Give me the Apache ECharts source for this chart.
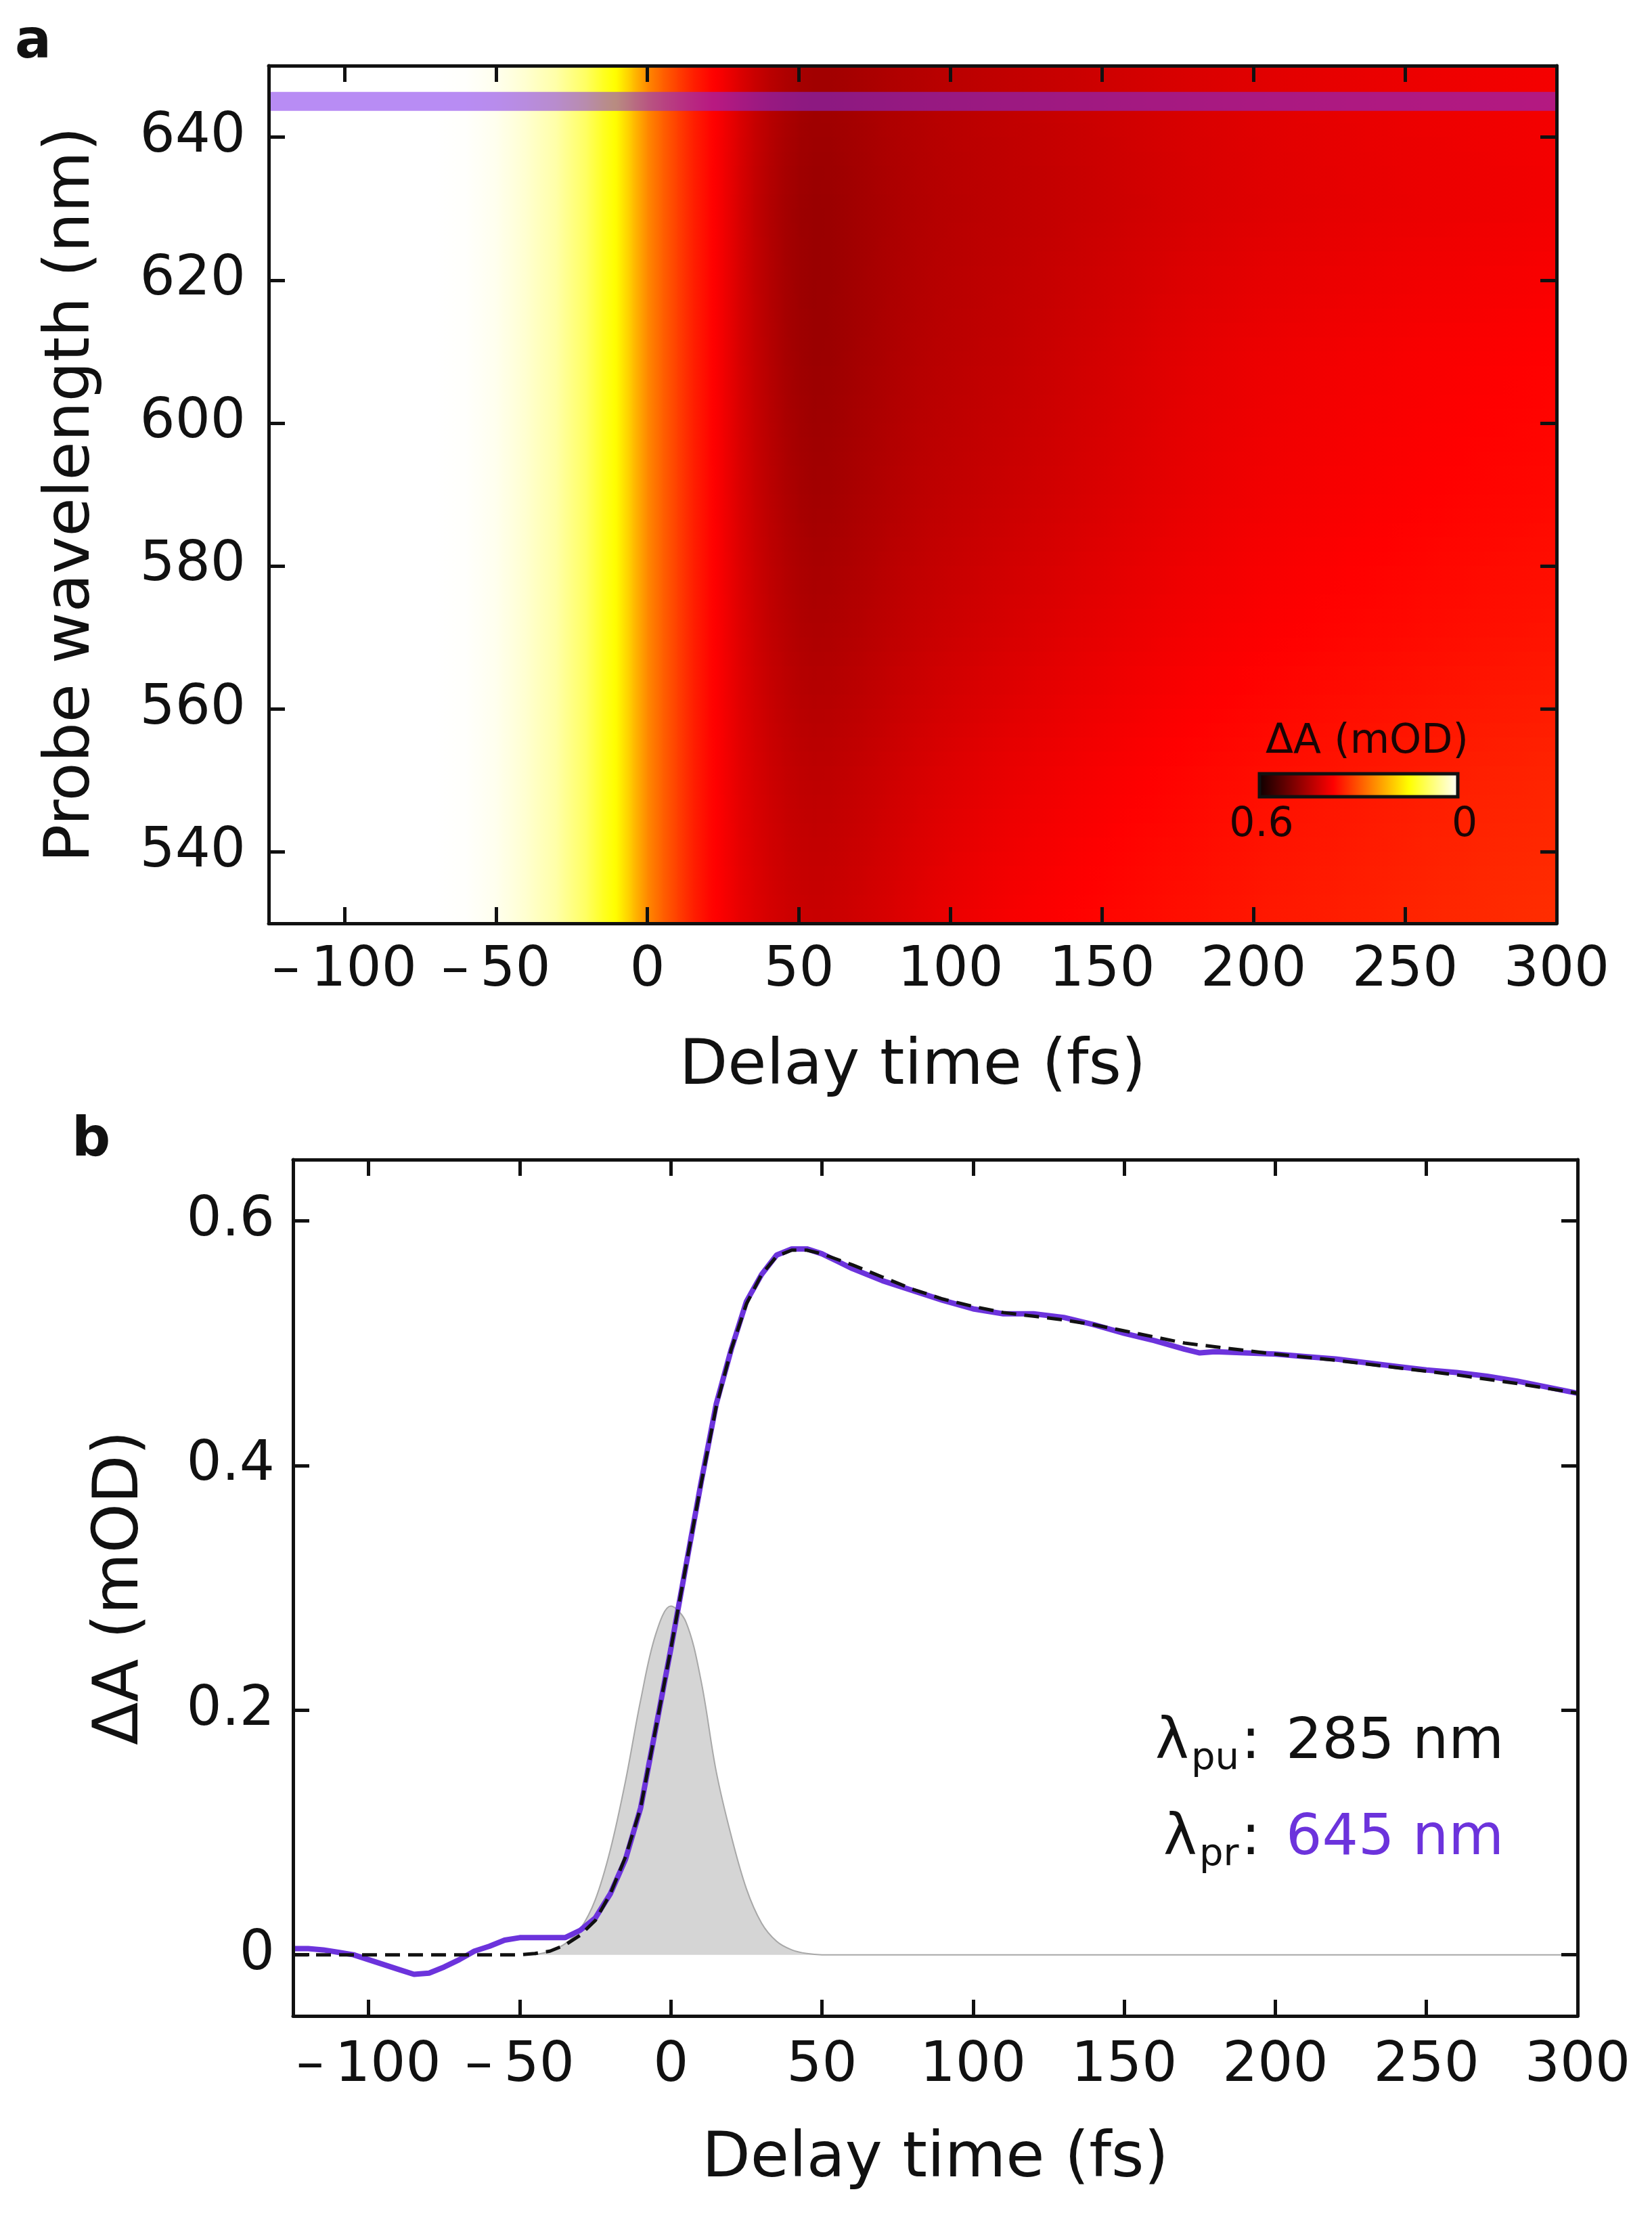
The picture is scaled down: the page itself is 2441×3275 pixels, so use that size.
<!DOCTYPE html>
<html>
<head>
<meta charset="utf-8">
<title>Transient absorption</title>
<script src="https://cdn.jsdelivr.net/npm/echarts@6.0.0/dist/echarts.min.js"></script>
<style>
  html, body { margin: 0; padding: 0; background: #fff; }
  #chart { width: 2441px; height: 3275px; }
</style>
</head>
<body>
<div id="chart"></div>
<script>
// tick labels
const delayTicks = [-100, -50, 0, 50, 100, 150, 200, 250, 300];
const wavelengthTicks = [540, 560, 580, 600, 620, 640];
const dATicks = [0, 0.2, 0.4, 0.6];

// panel a: dA map (mOD), columns = delay (fs), rows = probe wavelength (nm)
const mapTimes = [-125, -70, -60, -50, -40, -30, -20, -15, -10, -5, 0, 5, 10, 15, 20,
  25, 30, 35, 40, 45, 50, 55, 60, 70, 80, 90, 100, 120, 140, 160, 180, 200, 225, 250, 275, 300];
const mapWavelengths = [650, 630, 610, 590, 570, 550, 530];
// rise up to 20 fs looks the same at every wavelength
const mapOnset = [0, 0, 0.002, 0.01, 0.028, 0.052, 0.095, 0.128, 0.155, 0.205, 0.255, 0.29, 0.32, 0.347, 0.368];
// 25 fs .. 300 fs
const map650 = [0.385, 0.405, 0.423, 0.437, 0.448, 0.456, 0.46, 0.46, 0.455, 0.448, 0.443, 0.438, 0.431, 0.424, 0.416, 0.409, 0.403, 0.397, 0.392, 0.388, 0.384];
const map630 = [0.388, 0.41, 0.43, 0.445, 0.457, 0.465, 0.468, 0.467, 0.46, 0.452, 0.446, 0.441, 0.434, 0.427, 0.419, 0.411, 0.405, 0.399, 0.394, 0.39, 0.386];
const map610 = [0.388, 0.41, 0.428, 0.442, 0.455, 0.463, 0.467, 0.466, 0.458, 0.45, 0.443, 0.438, 0.43, 0.42, 0.41, 0.4, 0.393, 0.387, 0.382, 0.378, 0.374];
const map590 = [0.387, 0.407, 0.424, 0.437, 0.448, 0.456, 0.46, 0.459, 0.452, 0.444, 0.437, 0.432, 0.423, 0.414, 0.404, 0.395, 0.388, 0.382, 0.377, 0.372, 0.368];
const map570 = [0.385, 0.403, 0.418, 0.43, 0.439, 0.446, 0.449, 0.448, 0.442, 0.434, 0.427, 0.421, 0.411, 0.401, 0.392, 0.384, 0.378, 0.372, 0.367, 0.362, 0.358];
const map550 = [0.383, 0.399, 0.411, 0.42, 0.428, 0.433, 0.435, 0.434, 0.428, 0.42, 0.412, 0.405, 0.394, 0.385, 0.377, 0.37, 0.364, 0.358, 0.352, 0.347, 0.343];
const map530 = [0.381, 0.395, 0.405, 0.413, 0.419, 0.423, 0.425, 0.424, 0.418, 0.41, 0.401, 0.393, 0.382, 0.374, 0.367, 0.361, 0.355, 0.35, 0.344, 0.339, 0.335];

const probeWavelength = 645;
const probeSpan = [-125, 300];

// panel b: kinetic trace at 645 nm, fit, and instrument response
const traceTime = [-125, -120, -115, -110, -105, -100, -95, -90, -85, -80, -75, -70, -65, -60, -55, -50, -45, -40, -35, -30,
  -25, -20, -15, -10, -5, 0, 5, 10, 15, 20, 25, 30, 35, 40, 45, 50, 55, 60, 65, 70, 75, 80, 90, 100, 110, 120, 130, 140,
  150, 160, 170, 175, 180, 190, 200, 210, 220, 230, 240, 250, 260, 270, 280, 290, 300];
const traceDA = [0.005, 0.005, 0.004, 0.002, 0.0, -0.004, -0.008, -0.012, -0.016, -0.015, -0.01, -0.004, 0.003, 0.007, 0.012, 0.014, 0.014, 0.014, 0.014, 0.02,
  0.03, 0.05, 0.078, 0.12, 0.185, 0.25, 0.318, 0.386, 0.45, 0.495, 0.534, 0.556, 0.572, 0.577, 0.577, 0.573, 0.567, 0.561, 0.556, 0.551, 0.547, 0.543, 0.535, 0.528, 0.524, 0.524, 0.521, 0.515,
  0.508, 0.502, 0.495, 0.492, 0.493, 0.492, 0.491, 0.489, 0.487, 0.484, 0.481, 0.478, 0.476, 0.473, 0.469, 0.464, 0.459];
const fitTime = [-125, -50, -45, -40, -35, -30, -25, -20, -15, -10, -5, 0, 5, 10, 15, 20, 25, 30, 35, 40,
  45, 50, 60, 70, 80, 90, 100, 110, 120, 130, 140, 150, 160, 170, 180, 190, 200, 220, 240, 260, 280, 300];
const fitDA = [0, 0, 0.001, 0.003, 0.008, 0.016, 0.028, 0.05, 0.08, 0.12, 0.185, 0.25, 0.318, 0.385, 0.448, 0.495, 0.532, 0.556, 0.571, 0.576,
  0.576, 0.573, 0.564, 0.554, 0.544, 0.536, 0.53, 0.525, 0.522, 0.519, 0.515, 0.51, 0.505, 0.5, 0.497, 0.494, 0.491, 0.486, 0.48, 0.474, 0.467, 0.459];
const irfTime = [-45, -40, -35, -30, -25, -20, -15, -10, -5, 0, 5, 10, 15, 20, 25, 30, 35, 40, 45, 50, 300];
const irfDA = [0, 0.003, 0.009, 0.021, 0.045, 0.086, 0.142, 0.208, 0.262, 0.285, 0.272, 0.224, 0.15, 0.097, 0.054, 0.026, 0.011, 0.004, 0.001, 0, 0];

const fontFamily = 'DejaVu Sans';
const ink = '#111';
const purple = '#6c33dc';
const dAMax = 0.6;
// reversed "hot" colour map: 0 = dark (0.6 mOD), 1 = white (0 mOD)
const hotStops = [[0, [10, 0, 0]], [0.375, [255, 0, 0]], [0.75, [255, 255, 0]], [1, [255, 255, 255]]];

const mapRows = [map650, map630, map610, map590, map570, map550, map530].map(r => mapOnset.concat(r));

function rgb (c) {
  return 'rgb(' + c.map(Math.round).join(',') + ')';
}

function hotColor (v) {
  const f = Math.min(1, Math.max(0, 1 - v / dAMax));
  for (let k = 1; k < hotStops.length; k++) {
    if (f <= hotStops[k][0]) {
      const [f0, c0] = hotStops[k - 1];
      const [f1, c1] = hotStops[k];
      const u = (f - f0) / (f1 - f0);
      return rgb(c0.map((c, n) => c + (c1[n] - c) * u));
    }
  }
  return 'rgb(255,255,255)';
}

function lerp (a, b, u) {
  return a + (b - a) * u;
}

function zip (xs, ys) {
  return xs.map((x, i) => [x, ys[i]]);
}

function formatDelay (v) {
  return v < 0 ? '\u2013\u2009' + (-v) : String(v);
}

// one map cell, shaded between its corner values
function renderCell (params, api) {
  const j = api.value(2);
  const i = api.value(3);
  const t0 = mapTimes[j];
  const t1 = mapTimes[j + 1];
  const w0 = mapWavelengths[i];
  const w1 = mapWavelengths[i + 1];
  const strips = 10;
  const children = [];
  for (let k = 0; k < strips; k++) {
    const fa = k / strips;
    const fb = (k + 1) / strips;
    const p0 = api.coord([t0, lerp(w0, w1, fa)]);
    const p1 = api.coord([t1, lerp(w0, w1, fb)]);
    const fm = (fa + fb) / 2;
    const vL = lerp(mapRows[i][j], mapRows[i + 1][j], fm);
    const vR = lerp(mapRows[i][j + 1], mapRows[i + 1][j + 1], fm);
    const stops = [];
    for (let s = 0; s <= 4; s++) {
      stops.push({ offset: s / 4, color: hotColor(lerp(vL, vR, s / 4)) });
    }
    children.push({
      type: 'rect',
      shape: { x: p0[0], y: p0[1], width: p1[0] - p0[0] + 1, height: p1[1] - p0[1] + 1 },
      style: { fill: new echarts.graphic.LinearGradient(0, 0, 1, 0, stops) }
    });
  }
  return { type: 'group', children: children };
}

const mapCells = [];
for (let i = 0; i < mapWavelengths.length - 1; i++) {
  for (let j = 0; j < mapTimes.length - 1; j++) {
    mapCells.push([mapTimes[j], mapWavelengths[i], j, i]);
  }
}

const lineStyle = { color: ink, width: 5 };
const tickStyle = { inside: true, length: 24, lineStyle: { color: ink, width: 5 } };
const labelStyle = { fontSize: 82, fontFamily: fontFamily, color: ink };
const nameStyle = { fontSize: 93, fontFamily: fontFamily, color: ink };

function delayAxis (gridIndex, position, withLabels) {
  const axis = {
    type: 'value',
    gridIndex: gridIndex,
    position: position,
    min: -125,
    max: 300,
    z: 10,
    axisLine: { onZero: false, lineStyle: lineStyle },
    axisTick: Object.assign({ customValues: delayTicks }, tickStyle),
    axisLabel: withLabels
      ? Object.assign({ customValues: delayTicks, formatter: formatDelay, margin: gridIndex === 0 ? 30 : 34 }, labelStyle)
      : { show: false },
    splitLine: { show: false }
  };
  if (withLabels) {
    axis.name = 'Delay time (fs)';
    axis.nameLocation = 'middle';
    axis.nameGap = 166;
    axis.nameTextStyle = nameStyle;
  }
  return axis;
}

function valueAxis (gridIndex, position, min, max, ticks, name, nameGap, margin) {
  const withLabels = position === 'left';
  const axis = {
    type: 'value',
    gridIndex: gridIndex,
    position: position,
    min: min,
    max: max,
    z: 10,
    axisLine: { onZero: false, lineStyle: lineStyle },
    axisTick: Object.assign({ customValues: ticks }, tickStyle),
    axisLabel: withLabels ? Object.assign({ customValues: ticks, margin: margin }, labelStyle) : { show: false },
    splitLine: { show: false }
  };
  if (withLabels) {
    axis.name = name;
    axis.nameLocation = 'middle';
    axis.nameGap = nameGap;
    axis.nameTextStyle = nameStyle;
  }
  return axis;
}

function label (text, x, y, size, extra) {
  return {
    type: 'text',
    z: 100,
    style: Object.assign({
      text: text, x: x, y: y, fontSize: size, fontFamily: fontFamily,
      fill: ink, align: 'left', verticalAlign: 'bottom'
    }, extra || {})
  };
}

const chart = echarts.init(document.getElementById('chart'), null, { renderer: 'canvas' });

chart.setOption({
  animation: false,
  backgroundColor: '#fff',
  grid: [
    { left: 397, top: 97, width: 1903, height: 1267, containLabel: false, outerBoundsMode: 'none' },
    { left: 433, top: 1713, width: 1898, height: 1265, containLabel: false, outerBoundsMode: 'none' }
  ],
  xAxis: [
    delayAxis(0, 'bottom', true),
    delayAxis(0, 'top', false),
    delayAxis(1, 'bottom', true),
    delayAxis(1, 'top', false)
  ],
  yAxis: [
    valueAxis(0, 'left', 530, 650, wavelengthTicks, 'Probe wavelength (nm)', 244, 34),
    valueAxis(0, 'right', 530, 650, wavelengthTicks),
    valueAxis(1, 'left', -0.05, 0.65, dATicks, '\u0394A (mOD)', 208, 27),
    valueAxis(1, 'right', -0.05, 0.65, dATicks)
  ],
  series: [
    {
      type: 'custom',
      xAxisIndex: 0,
      yAxisIndex: 0,
      coordinateSystem: 'cartesian2d',
      data: mapCells,
      encode: { x: 0, y: 1 },
      renderItem: renderCell,
      clip: true,
      silent: true,
      z: 1
    },
    {
      type: 'line',
      xAxisIndex: 0,
      yAxisIndex: 0,
      data: probeSpan.map(t => [t, probeWavelength]),
      symbol: 'none',
      silent: true,
      lineStyle: { width: 28, color: 'rgba(125, 45, 235, 0.55)', cap: 'butt' },
      z: 5
    },
    {
      type: 'line',
      xAxisIndex: 2,
      yAxisIndex: 2,
      data: zip(irfTime, irfDA),
      symbol: 'none',
      smooth: 0.35,
      silent: true,
      lineStyle: { color: '#a8a8a8', width: 2 },
      areaStyle: { color: '#d5d5d5', opacity: 1 },
      z: 1
    },
    {
      type: 'line',
      xAxisIndex: 2,
      yAxisIndex: 2,
      data: zip(traceTime, traceDA),
      symbol: 'none',
      silent: true,
      lineStyle: { color: purple, width: 8 },
      z: 2
    },
    {
      type: 'line',
      xAxisIndex: 2,
      yAxisIndex: 2,
      data: zip(fitTime, fitDA),
      symbol: 'none',
      silent: true,
      lineStyle: { color: ink, width: 5, type: [22, 12] },
      z: 3
    }
  ],
  graphic: [
    label('a', 22, 104, 80, { fontWeight: 'bold' }),
    label('b', 106, 1726, 80, { fontWeight: 'bold' }),
    // colour bar
    {
      type: 'rect',
      z: 100,
      shape: { x: 1861, y: 1143, width: 293, height: 34 },
      style: {
        fill: new echarts.graphic.LinearGradient(0, 0, 1, 0,
          hotStops.map(s => ({ offset: s[0], color: rgb(s[1]) }))),
        stroke: ink,
        lineWidth: 5
      }
    },
    label('\u0394A (mOD)', 2020, 1126, 60, { align: 'center', fill: '#1a0505' }),
    label('0.6', 1864, 1249, 60, { align: 'center', fill: '#1a0505' }),
    label('0', 2164, 1249, 60, { align: 'center', fill: '#1a0505' }),
    // pump / probe note
    label('\u03bb', 1707, 2617, 84),
    label('pu', 1760, 2626, 56),
    label(':', 1834, 2617, 84),
    label('285 nm', 1900, 2617, 84),
    label('\u03bb', 1719, 2759, 84),
    label('pr', 1772, 2768, 56),
    label(':', 1834, 2759, 84),
    label('645 nm', 1900, 2759, 84, { fill: purple })
  ]
});
</script>
</body>
</html>
